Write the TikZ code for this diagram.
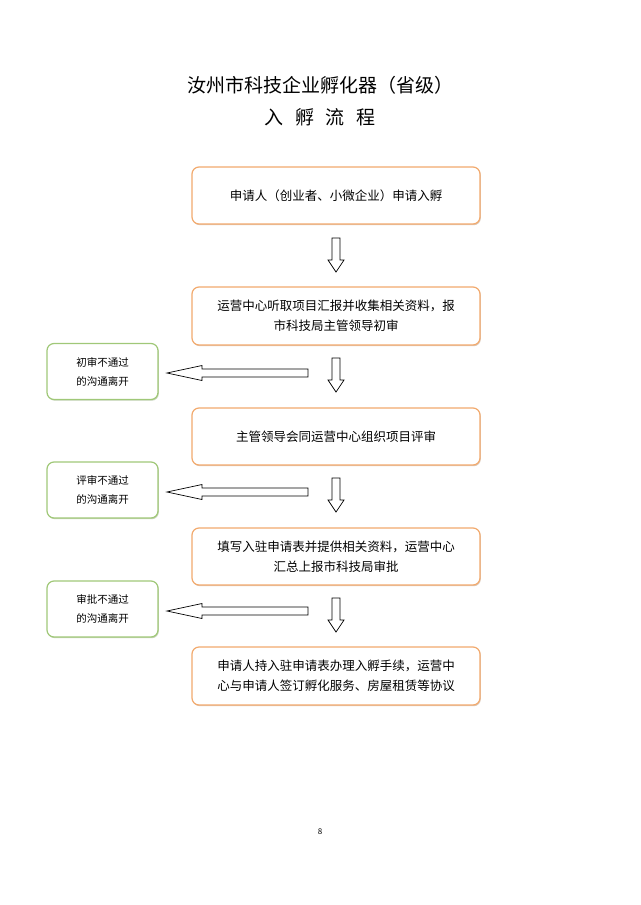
\documentclass[tikz,border=0pt]{standalone}
\usepackage{fontspec}
\setmainfont{Noto Sans CJK SC}
\usetikzlibrary{shadows}
\definecolor{ob}{RGB}{242,170,110}
\definecolor{gb}{RGB}{160,200,120}
\begin{document}
\begin{tikzpicture}[x=1pt,y=-1pt,
  mbox/.style={draw=ob,line width=1.2pt,rounded corners=7pt,fill=white,minimum width=288pt,align=center,font=\fontsize{12.5}{20}\selectfont,drop shadow={shadow xshift=0.8pt,shadow yshift=-1.2pt,fill=ob!50!gray,opacity=0.5}},
  gbox/.style={draw=gb,line width=1.2pt,rounded corners=7pt,fill=white,minimum width=111pt,minimum height=56pt,align=center,font=\fontsize{10.5}{19}\selectfont,drop shadow={shadow xshift=0.8pt,shadow yshift=-1.2pt,fill=gb!60!gray,opacity=0.5}},
  arr/.style={draw=black,line width=0.7pt,fill=white}]
\useasboundingbox (0,0) rectangle (640,905);
\fill[white] (0,0) rectangle (640,905);
\node (t1) at (320,85) {\fontsize{19}{22}\selectfont 汝州市科技企业孵化器（省级）};
\node (t2) at (320,117) {\fontsize{19}{22}\selectfont 入\hspace{0.6em}孵\hspace{0.6em}流\hspace{0.6em}程};
\node[mbox,minimum height=57pt] (b1) at (336,195.5) {申请人（创业者、小微企业）申请入孵};
\node[mbox,minimum height=58pt] (b2) at (336,316) {运营中心听取项目汇报并收集相关资料，报\\市科技局主管领导初审};
\node[mbox,minimum height=57pt] (b3) at (336,436.5) {主管领导会同运营中心组织项目评审};
\node[mbox,minimum height=57pt] (b4) at (336,556.5) {填写入驻申请表并提供相关资料，运营中心\\汇总上报市科技局审批};
\node[mbox,minimum height=58pt] (b5) at (336,676) {申请人持入驻申请表办理入孵手续，运营中\\心与申请人签订孵化服务、房屋租赁等协议};
\node[gbox] (g1) at (102.5,371.5) {初审不通过\\的沟通离开};
\node[gbox] (g2) at (102.5,490) {评审不通过\\的沟通离开};
\node[gbox] (g3) at (102.5,609) {审批不通过\\的沟通离开};
\foreach \y in {238,358,478,598}{
  \draw[arr] (332,\y) -- (340,\y) -- (340,\y+22) -- (344,\y+22) -- (336,\y+34) -- (328,\y+22) -- (332,\y+22) -- cycle;}
\foreach \y in {373,492,611}{
  \draw[arr] (308,\y-4) -- (202,\y-4) -- (202,\y-7.5) -- (167,\y) -- (202,\y+7.5) -- (202,\y+4) -- (308,\y+4) -- cycle;}
\node (pg) at (320,832) {\fontsize{8}{10}\selectfont 8};
\end{tikzpicture}
\end{document}
